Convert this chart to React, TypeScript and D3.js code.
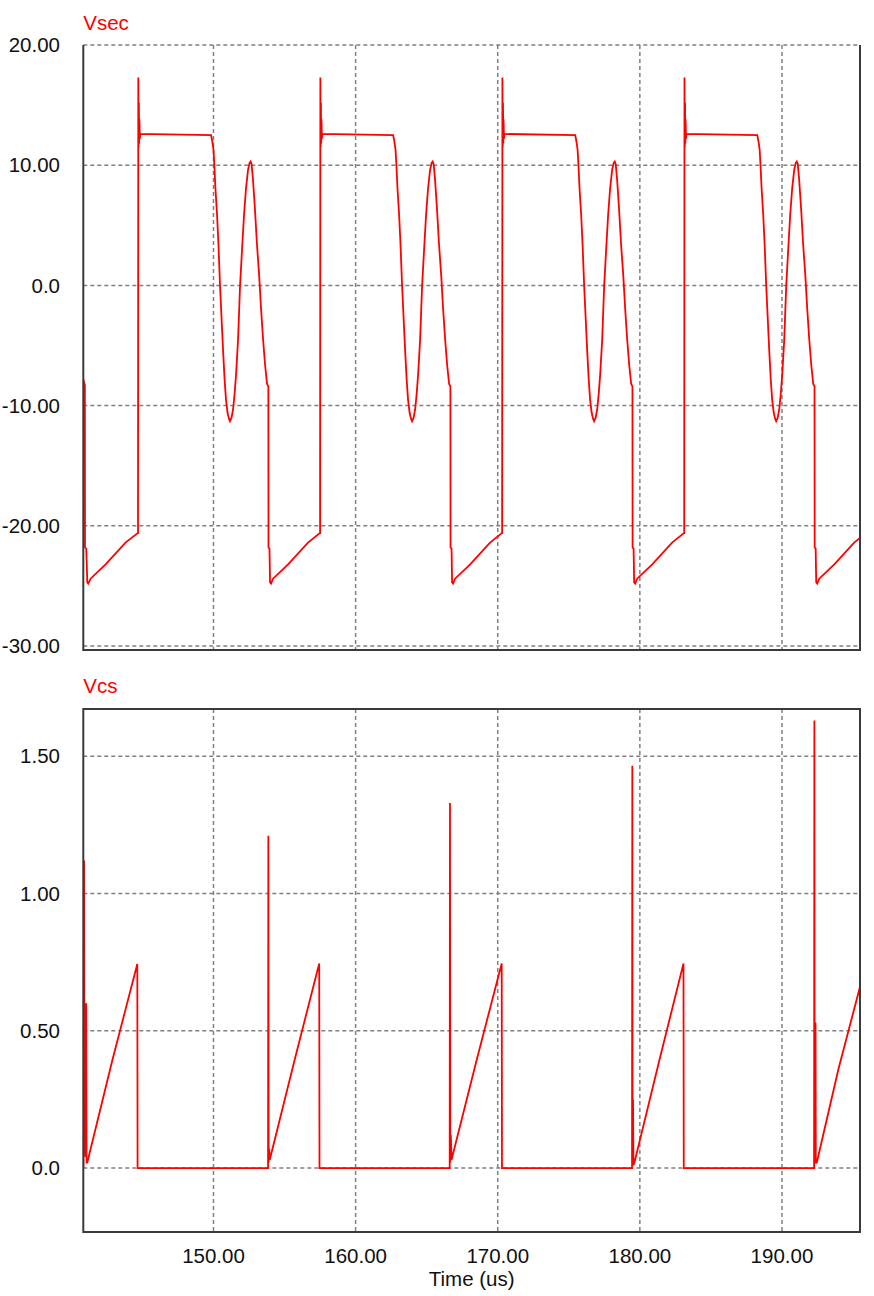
import React from "react";
import * as d3 from "d3";

// ---- data (time in us, values in V) ----
const timeDomain = [140.84, 195.49];
const timeTicks = [150, 160, 170, 180, 190];
const vsecTicks = [20, 10, 0, -10, -20, -30];
const vcsTicks = [0, 0.5, 1.0, 1.5];

const vsecStart: [number, number][] = [
  [140.84, -7.8], [140.95, -8.3], [140.96, -21.8], [141.05, -21.9], [141.12, -24.7], [141.19, -24.8],
  [141.35, -24.4], [142.41, -23.2], [143.81, -21.4], [144.67, -20.6],
];
const vsecCycle1: [number, number][] = [
  [144.69, -20.6], [144.71, 17.3], [144.73, 11.5], [144.75, 15.2], [144.77, 11.8], [144.79, 13.8], [144.82, 12.2], [144.85, 12.6],
  [149.83, 12.5], [149.90, 12.1], [150.00, 11.3], [150.06, 10.0], [150.14, 8.0], [150.25, 5.9], [150.35, 3.4], [150.46, 0.0],
  [150.57, -2.8], [150.67, -5.3], [150.78, -7.8], [150.88, -9.5], [150.99, -10.6], [151.09, -11.1], [151.16, -11.3], [151.27, -11.0],
  [151.38, -10.3], [151.48, -9.1], [151.59, -7.4], [151.73, -4.5], [151.87, 0.0], [152.01, 3.0], [152.15, 5.9], [152.29, 8.1],
  [152.43, 9.6], [152.54, 10.2], [152.61, 10.3], [152.68, 10.1], [152.78, 8.8], [152.92, 6.3], [153.06, 3.4], [153.21, 0.9],
  [153.35, -2.0], [153.49, -4.5], [153.63, -6.6], [153.77, -8.2], [153.86, -8.4], [153.87, -21.8], [153.94, -21.9], [153.98, -24.7],
  [154.05, -24.8], [154.19, -24.4], [155.25, -23.2], [156.65, -21.4], [157.48, -20.6],
];
const vsecCycle2: [number, number][] = [
  [157.50, -20.6], [157.52, 17.3], [157.54, 11.5], [157.56, 15.2], [157.58, 11.8], [157.60, 13.8], [157.63, 12.2], [157.66, 12.6],
  [162.64, 12.5], [162.71, 12.1], [162.81, 11.3], [162.87, 10.0], [162.95, 8.0], [163.06, 5.9], [163.16, 3.4], [163.27, 0.0],
  [163.38, -2.8], [163.48, -5.3], [163.59, -7.8], [163.69, -9.5], [163.80, -10.6], [163.90, -11.1], [163.97, -11.3], [164.08, -11.0],
  [164.19, -10.3], [164.29, -9.1], [164.40, -7.4], [164.54, -4.5], [164.68, 0.0], [164.82, 3.0], [164.96, 5.9], [165.10, 8.1],
  [165.24, 9.6], [165.35, 10.2], [165.42, 10.3], [165.49, 10.1], [165.59, 8.8], [165.73, 6.3], [165.87, 3.4], [166.02, 0.9],
  [166.16, -2.0], [166.30, -4.5], [166.44, -6.6], [166.58, -8.2], [166.67, -8.4], [166.68, -21.8], [166.75, -21.9], [166.79, -24.7],
  [166.86, -24.8], [167.00, -24.4], [168.06, -23.2], [169.46, -21.4], [170.29, -20.6],
];
const vsecCycle3: [number, number][] = [
  [170.31, -20.6], [170.33, 17.3], [170.35, 11.5], [170.37, 15.2], [170.39, 11.8], [170.41, 13.8], [170.44, 12.2], [170.47, 12.6],
  [175.45, 12.5], [175.52, 12.1], [175.62, 11.3], [175.68, 10.0], [175.76, 8.0], [175.87, 5.9], [175.97, 3.4], [176.08, 0.0],
  [176.19, -2.8], [176.29, -5.3], [176.40, -7.8], [176.50, -9.5], [176.61, -10.6], [176.71, -11.1], [176.78, -11.3], [176.89, -11.0],
  [177.00, -10.3], [177.10, -9.1], [177.21, -7.4], [177.35, -4.5], [177.49, 0.0], [177.63, 3.0], [177.77, 5.9], [177.91, 8.1],
  [178.05, 9.6], [178.16, 10.2], [178.23, 10.3], [178.30, 10.1], [178.40, 8.8], [178.54, 6.3], [178.68, 3.4], [178.83, 0.9],
  [178.97, -2.0], [179.11, -4.5], [179.25, -6.6], [179.39, -8.2], [179.48, -8.4], [179.49, -21.8], [179.56, -21.9], [179.60, -24.7],
  [179.67, -24.8], [179.81, -24.4], [180.87, -23.2], [182.27, -21.4], [183.10, -20.6],
];
const vsecCycle4: [number, number][] = [
  [183.12, -20.6], [183.14, 17.3], [183.16, 11.5], [183.18, 15.2], [183.20, 11.8], [183.22, 13.8], [183.25, 12.2], [183.28, 12.6],
  [188.26, 12.5], [188.33, 12.1], [188.43, 11.3], [188.49, 10.0], [188.57, 8.0], [188.68, 5.9], [188.78, 3.4], [188.89, 0.0],
  [189.00, -2.8], [189.10, -5.3], [189.21, -7.8], [189.31, -9.5], [189.42, -10.6], [189.52, -11.1], [189.59, -11.3], [189.70, -11.0],
  [189.81, -10.3], [189.91, -9.1], [190.02, -7.4], [190.16, -4.5], [190.30, 0.0], [190.44, 3.0], [190.58, 5.9], [190.72, 8.1],
  [190.86, 9.6], [190.97, 10.2], [191.04, 10.3], [191.11, 10.1], [191.21, 8.8], [191.35, 6.3], [191.49, 3.4], [191.64, 0.9],
  [191.78, -2.0], [191.92, -4.5], [192.06, -6.6], [192.20, -8.2], [192.29, -8.4], [192.30, -21.8], [192.37, -21.9], [192.41, -24.7],
  [192.48, -24.8], [192.62, -24.4], [193.68, -23.2], [195.08, -21.4], [195.49, -21.0],
];

const vcsStart: [number, number][] = [
  [140.85, 0.0], [140.90, 1.12], [140.93, 0.05], [140.96, 0.60], [140.99, 0.04], [141.04, 0.60], [141.07, 0.02],
  [141.12, 0.02], [142.87, 0.39], [144.64, 0.743], [144.66, 0.0],
];
const vcsCycle1: [number, number][] = [
  [153.84, 0.0], [153.86, 1.21], [153.88, 0.02], [153.92, 0.07], [153.96, 0.03], [155.69, 0.39], [157.44, 0.745], [157.46, 0.0],
];
const vcsCycle2: [number, number][] = [
  [166.62, 0.0], [166.64, 1.33], [166.66, 0.02], [166.70, 0.12], [166.75, 0.03], [168.50, 0.39], [170.28, 0.745], [170.30, 0.0],
];
const vcsCycle3: [number, number][] = [
  [179.45, 0.0], [179.47, 1.465], [179.49, 0.02], [179.52, 0.25], [179.55, 0.01], [179.62, 0.02], [181.36, 0.39], [183.07, 0.745], [183.09, 0.0],
];
const vcsCycle4: [number, number][] = [
  [192.26, 0.0], [192.28, 1.63], [192.30, 0.02], [192.36, 0.53], [192.38, 0.02], [192.45, 0.02], [193.97, 0.36], [195.49, 0.66],
];

const vsecSeries = [...vsecStart, ...vsecCycle1, ...vsecCycle2, ...vsecCycle3, ...vsecCycle4];
const vcsSeries = [...vcsStart, ...vcsCycle1, ...vcsCycle2, ...vcsCycle3, ...vcsCycle4];

// ---- layout ----
const W = 874, H = 1296;
const PL = 83.3, PR = 860;
const TOP1 = 45, BOT1 = 650;
const TOP2 = 709, BOT2 = 1232;
const FONT = "'Liberation Sans', Arial, sans-serif";
const RED = "#ff0000";
const GRID = "#808080";
const FRAME = "#3a3a3a";

const fmt = (v: number) => (v === 0 ? "0.0" : v.toFixed(2));

export default function App() {
  const x = d3.scaleLinear().domain(timeDomain).range([PL, PR]);
  const y1 = d3.scaleLinear().domain([-30.33, 20]).range([BOT1, TOP1]);
  const y2 = d3.scaleLinear().domain([-0.233, 1.672]).range([BOT2, TOP2]);

  const line1 = d3.line<[number, number]>().x((d) => x(d[0])).y((d) => y1(d[1]));
  const line2 = d3.line<[number, number]>().x((d) => x(d[0])).y((d) => y2(d[1]));

  const gridV = (top: number, bot: number) =>
    timeTicks.map((t) => (
      <line key={"v" + t} x1={x(t)} x2={x(t)} y1={top} y2={bot} stroke={GRID} strokeWidth={1.5} strokeDasharray="4,3" />
    ));

  return (
    <svg width={W} height={H} style={{ position: "absolute", left: 0, top: 0, background: "#fff" }} fontFamily={FONT}>
      <defs>
        <clipPath id="c1"><rect x={PL} y={TOP1 - 2} width={PR - PL} height={BOT1 - TOP1 + 2} /></clipPath>
        <clipPath id="c2"><rect x={PL} y={TOP2} width={PR - PL} height={BOT2 - TOP2} /></clipPath>
      </defs>
      <rect x={0} y={0} width={W} height={H} fill="#fff" />

      {/* Panel 1 */}
      <text x={PL} y={30} fill={RED} fontSize={20.5}>Vsec</text>
      {gridV(TOP1, BOT1)}
      {vsecTicks.map((v) => (
        <g key={"h1" + v}>
          <line x1={PL} x2={PR} y1={y1(v)} y2={y1(v)} stroke={GRID} strokeWidth={1.5} strokeDasharray="4,3" />
          <text x={60} y={y1(v)} dy="0.35em" textAnchor="end" fontSize={20.5} fill="#111">{fmt(v)}</text>
        </g>
      ))}
      <path d={line1(vsecSeries) || ""} fill="none" stroke={RED} strokeWidth={1.8} clipPath="url(#c1)" />
      <polyline points={`${PL},${TOP1} ${PL},${BOT1} ${PR},${BOT1} ${PR},${TOP1}`} fill="none" stroke={FRAME} strokeWidth={2} />

      {/* Panel 2 */}
      <text x={PL} y={693} fill={RED} fontSize={20.5}>Vcs</text>
      {gridV(TOP2, BOT2)}
      {vcsTicks.map((v) => (
        <g key={"h2" + v}>
          <line x1={PL} x2={PR} y1={y2(v)} y2={y2(v)} stroke={GRID} strokeWidth={1.5} strokeDasharray="4,3" />
          <text x={60} y={y2(v)} dy="0.35em" textAnchor="end" fontSize={20.5} fill="#111">{fmt(v)}</text>
        </g>
      ))}
      <path d={line2(vcsSeries) || ""} fill="none" stroke={RED} strokeWidth={1.8} clipPath="url(#c2)" />
      <rect x={PL} y={TOP2} width={PR - PL} height={BOT2 - TOP2} fill="none" stroke={FRAME} strokeWidth={2} />

      {/* X axis labels */}
      {timeTicks.map((t) => (
        <text key={"xt" + t} x={x(t)} y={1263} textAnchor="middle" fontSize={20.5} fill="#111">{t.toFixed(2)}</text>
      ))}
      <text x={(PL + PR) / 2} y={1286} textAnchor="middle" fontSize={20.5} fill="#111">Time (us)</text>
    </svg>
  );
}
